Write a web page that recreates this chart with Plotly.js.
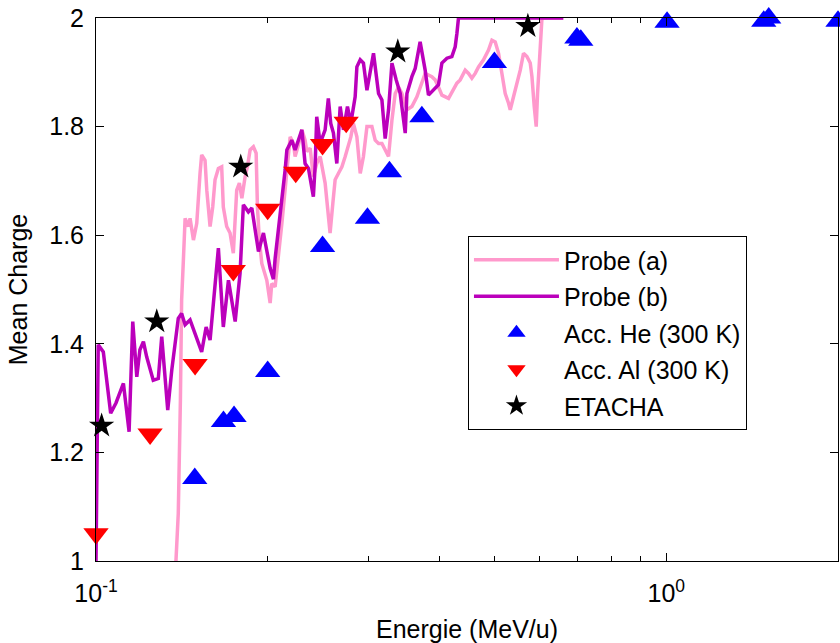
<!DOCTYPE html>
<html>
<head>
<meta charset="utf-8">
<script src="https://cdn.plot.ly/plotly-3.0.1.min.js"></script>
<style>
  html, body { margin: 0; padding: 0; background: #fff; }
  #chart { width: 840px; height: 643px; }
</style>
</head>
<body>
<div id="chart"></div>
<script>
// Probe (a) — energy (MeV/u) and mean charge
const probeA_E = [0.1381,0.1394,0.1406,0.1413,0.1423,0.1433,0.1452,0.1462,0.1482,0.1502,0.1522,0.1532,0.1553,0.1564,0.1585,0.1602,0.1617,0.1639,0.1661,0.1672,0.1695,0.1718,0.1741,0.1765,0.1784,0.1802,0.1826,0.1843,0.1863,0.1888,0.1909,0.1919,0.1934,0.1953,0.1993,0.2020,0.2033,0.2061,0.2118,0.2161,0.2190,0.2220,0.2234,0.2264,0.2296,0.2326,0.2342,0.2374,0.2405,0.2438,0.2472,0.2522,0.2555,0.2573,0.2602,0.2626,0.2662,0.2699,0.2735,0.2772,0.2798,0.2827,0.2867,0.2906,0.2944,0.2986,0.3046,0.3087,0.3129,0.3172,0.3214,0.3258,0.3303,0.3347,0.3392,0.3438,0.3509,0.3580,0.3653,0.3727,0.3777,0.3880,0.3933,0.3986,0.4041,0.4151,0.4235,0.4294,0.4351,0.4440,0.4500,0.4561,0.4623,0.4685,0.4781,0.4878,0.4946,0.5012,0.5080,0.5150,0.5218,0.5289,0.5325,0.5396,0.5471,0.5545,0.5618,0.5696,0.5773,0.5813,0.5867,0.5914,0.5946,0.5994,0.6029,0.6053,0.6597];
const probeA_Q = [1.000,1.088,1.297,1.481,1.554,1.631,1.616,1.631,1.591,1.622,1.714,1.748,1.738,1.683,1.616,1.652,1.702,1.723,1.726,1.652,1.616,1.604,1.567,1.683,1.696,1.668,1.708,1.726,1.757,1.763,1.751,1.652,1.591,1.548,1.517,1.475,1.511,1.505,1.622,1.726,1.781,1.769,1.745,1.766,1.794,1.775,1.754,1.760,1.708,1.732,1.745,1.696,1.640,1.604,1.659,1.702,1.714,1.726,1.745,1.769,1.781,1.806,1.781,1.714,1.745,1.800,1.800,1.775,1.769,1.769,1.757,1.745,1.812,1.861,1.873,1.861,1.831,1.837,1.855,1.880,1.898,1.892,1.886,1.873,1.858,1.852,1.867,1.880,1.886,1.904,1.898,1.889,1.898,1.910,1.923,1.941,1.959,1.956,1.935,1.898,1.861,1.843,1.831,1.855,1.880,1.904,1.935,1.929,1.917,1.892,1.837,1.800,1.861,1.935,1.996,2.000,2.000];

// Probe (b)
const probeB_E = [0.1000,0.1009,0.1030,0.1044,0.1061,0.1084,0.1117,0.1143,0.1160,0.1179,0.1194,0.1211,0.1227,0.1260,0.1286,0.1304,0.1336,0.1358,0.1394,0.1413,0.1433,0.1462,0.1532,0.1560,0.1585,0.1639,0.1672,0.1707,0.1754,0.1789,0.1813,0.1850,0.1876,0.1927,0.1966,0.2020,0.2047,0.2061,0.2103,0.2146,0.2161,0.2204,0.2234,0.2264,0.2296,0.2326,0.2358,0.2405,0.2422,0.2438,0.2472,0.2522,0.2555,0.2580,0.2608,0.2644,0.2680,0.2716,0.2760,0.2798,0.2847,0.2867,0.2906,0.2944,0.2986,0.3066,0.3129,0.3172,0.3214,0.3258,0.3303,0.3360,0.3415,0.3485,0.3509,0.3580,0.3628,0.3701,0.3777,0.3828,0.3906,0.3986,0.4041,0.4124,0.4207,0.4264,0.4294,0.4321,0.6597];
const probeB_Q = [1.000,1.398,1.385,1.339,1.272,1.291,1.327,1.238,1.441,1.339,1.389,1.404,1.376,1.333,1.336,1.413,1.278,1.352,1.447,1.456,1.435,1.444,1.385,1.431,1.407,1.576,1.431,1.517,1.441,1.530,1.656,1.643,1.650,1.570,1.604,1.539,1.519,1.557,1.634,1.720,1.757,1.775,1.757,1.775,1.794,1.732,1.723,1.671,1.726,1.818,1.769,1.794,1.852,1.806,1.788,1.732,1.837,1.794,1.837,1.806,1.855,1.910,1.923,1.917,1.867,1.935,1.861,1.849,1.778,1.831,1.917,1.886,1.861,1.788,1.861,1.892,1.907,1.956,1.904,1.858,1.867,1.877,1.917,1.926,1.929,1.947,1.972,2.000,2.000];

// Acc. He (300 K)
const accHe_E = [0.149,0.1673,0.1746,0.200,0.2496,0.2992,0.327,0.3727,0.4995,0.697,0.708,1.003,1.482,1.512,2.0];
const accHe_Q = [1.152,1.257,1.266,1.349,1.579,1.631,1.717,1.818,1.918,1.963,1.959,1.992,1.994,2.000,1.994];

// Acc. Al (300 K)
const accAl_E = [0.1000,0.1244,0.1492,0.1741,0.2000,0.2240,0.2496,0.2746];
const accAl_Q = [1.050,1.234,1.362,1.535,1.648,1.716,1.767,1.808];

// ETACHA
const etacha_E = [0.1023,0.1278,0.1794,0.3382,0.5718];
const etacha_Q = [1.249,1.441,1.726,1.938,1.985];

const xTickVals = [0.1, 1];
const xTickText = ['10<sup>-1</sup>', '10<sup>0</sup>'];
const xMinorVals = [0.2,0.3,0.4,0.5,0.6,0.7,0.8,0.9,2];
const yTickVals = [1, 1.2, 1.4, 1.6, 1.8, 2];
const yTickText = ['1', '1.2', '1.4', '1.6', '1.8', '2'];

const FONT = 'Liberation Sans, Arial, Helvetica, sans-serif';
const FS = 25;

const traces = [
  {x: probeA_E, y: probeA_Q, name: 'Probe (a)', type: 'scatter', mode: 'lines',
   line: {color: '#FF99CC', width: 3.5}, legendgroup: 'a'},
  {x: probeB_E, y: probeB_Q, name: 'Probe (b)', type: 'scatter', mode: 'lines',
   line: {color: '#BB00BB', width: 3.5}, legendgroup: 'b'},
  {x: accHe_E, y: accHe_Q, name: 'Acc. He (300 K)', type: 'scatter', mode: 'markers',
   marker: {symbol: 'triangle-up', size: 22, color: '#0000FF'}, cliponaxis: false, legendgroup: 'c'},
  {x: accAl_E, y: accAl_Q, name: 'Acc. Al (300 K)', type: 'scatter', mode: 'markers',
   marker: {symbol: 'triangle-down', size: 22, color: '#FF0000'}, cliponaxis: false, legendgroup: 'd'},
  {x: etacha_E, y: etacha_Q, name: 'ETACHA', type: 'scatter', mode: 'markers',
   marker: {symbol: 'star', size: 19, color: '#000000'}, cliponaxis: false, legendgroup: 'e'}
];

const layout = {
  width: 840, height: 643,
  margin: {l: 96, r: 2, t: 18, b: 82},
  paper_bgcolor: '#fff', plot_bgcolor: '#fff',
  font: {family: FONT, size: FS, color: '#000'},
  showlegend: true,
  legend: {
    x: 0.5013, y: 0.5985, xanchor: 'left', yanchor: 'top',
    bgcolor: '#fff', bordercolor: '#000', borderwidth: 1,
    font: {family: FONT, size: FS, color: '#000'},
    itemwidth: 85, traceorder: 'grouped', tracegroupgap: 1
  },
  xaxis: {
    type: 'log', range: [-1, Math.log10(2)],
    tickvals: xTickVals, ticktext: xTickText,
    ticks: 'inside', ticklen: 8, tickcolor: '#000', tickwidth: 1,
    minor: {tickvals: xMinorVals, ticks: 'inside', ticklen: 5, tickcolor: '#000'},
    showline: true, linecolor: '#000', linewidth: 1, mirror: 'ticks',
    showgrid: false, zeroline: false,
    tickfont: {family: FONT, size: FS},
    ticklabelstandoff: 10,
    title: {text: 'Energie (MeV/u)', font: {family: FONT, size: FS}, standoff: 14}
  },
  yaxis: {
    range: [1, 2],
    tickvals: yTickVals, ticktext: yTickText,
    ticks: 'inside', ticklen: 8, tickcolor: '#000', tickwidth: 1,
    showline: true, linecolor: '#000', linewidth: 1, mirror: 'ticks',
    showgrid: false, zeroline: false,
    tickfont: {family: FONT, size: FS},
    ticklabelstandoff: 6,
    title: {text: 'Mean Charge', font: {family: FONT, size: FS}, standoff: 14}
  }
};

Plotly.newPlot('chart', traces, layout, {displayModeBar: false, staticPlot: true});
</script>
</body>
</html>
